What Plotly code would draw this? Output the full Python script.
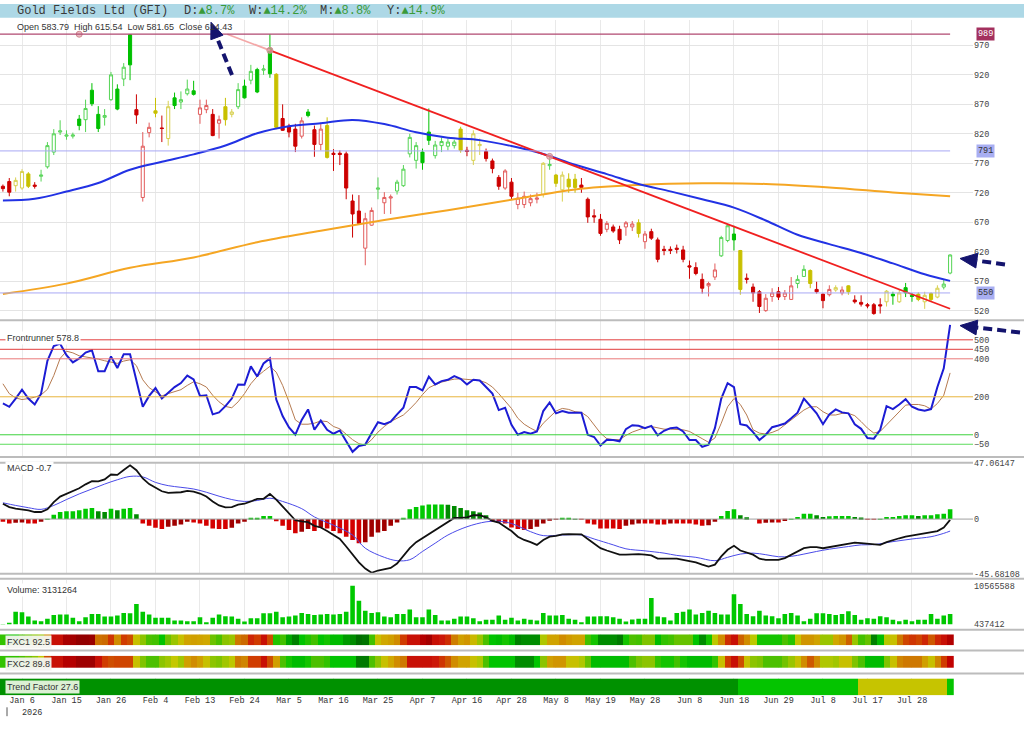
import plotly.graph_objects as go

W, H = 1024, 735

# ---------------- data ----------------
tick_bars = list(range(3, 144, 7))
tick_labels = ["Jan 6", "Jan 15", "Jan 26", "Feb 4", "Feb 13", "Feb 24", "Mar 5",
               "Mar 16", "Mar 25", "Apr 7", "Apr 16", "Apr 28", "May 8", "May 19",
               "May 28", "Jun 8", "Jun 18", "Jun 29", "Jul 8", "Jul 17", "Jul 28"]

bars = list(range(150))

opens = [
    731, 739, 732, 728, 752, 733, 748, 764, 789, 823,
    816, 816, 845, 844, 894, 853, 848, 878, 896, 913,
    988, 861, 712, 822, 859, 830, 812, 881, 874, 888,
    893, 853, 861, 853, 838, 866, 853, 866, 901, 911,
    929, 928, 965, 921, 846, 833, 828, 816, 857, 827,
    802, 834, 787, 787, 786, 706, 689, 626, 665, 726,
    703, 711, 723, 732, 786, 775, 789, 823, 783, 800,
    799, 800, 828, 792, 775, 800, 790, 774, 746, 728,
    738, 700, 700, 703, 709, 717, 766, 750, 725, 743,
    743, 733, 709, 681, 675, 658, 662, 658, 662, 662,
    669, 637, 654, 640, 624, 624, 626, 623, 596, 593,
    573, 562, 577, 613, 639, 650, 622, 575, 560, 552,
    520, 544, 552, 544, 539, 566, 578, 588, 556, 548,
    547, 555, 550, 562, 538, 534, 530, 530, 530, 535,
    548, 535, 559, 546, 548, 535, 549, 543, 560, 583.79]
closes = [
    727, 721, 741, 756, 731, 731, 750, 800, 820, 825,
    818, 818, 834, 863, 871, 829, 851, 920, 862, 933,
    937, 852, 799, 831, 855, 829, 866, 868, 878, 896,
    887, 864, 868, 817, 844, 844, 857, 895, 881, 926,
    891, 930, 922, 831, 826, 823, 799, 842, 851, 802,
    828, 780, 785, 785, 728, 684, 668, 676, 690, 728,
    712, 713, 738, 760, 814, 800, 771, 809, 801, 807,
    806, 806, 792, 790, 820, 802, 778, 761, 731, 757,
    714, 711, 714, 710, 711, 770, 768, 736, 750, 730,
    729, 729, 679, 679, 651, 668, 655, 640, 669, 667,
    651, 650, 643, 607, 622, 622, 624, 607, 594, 583,
    558, 566, 589, 644, 664, 640, 556, 573, 550, 527,
    541, 550, 543, 550, 562, 573, 590, 566, 552, 537,
    556, 559, 555, 552, 535, 531, 528, 515, 528, 553,
    545, 550, 550, 544, 539, 546, 539, 558, 565, 614.43]
highs = [
    734, 745, 746, 760, 755, 738, 759, 806, 828, 843,
    826, 822, 852, 878, 906, 867, 862, 925, 904, 940,
    989, 887, 823, 839, 881, 851, 876, 890, 892, 912,
    910, 878, 878, 862, 851, 881, 862, 906, 912, 937,
    932, 937, 989, 923, 870, 837, 837, 848, 862, 834,
    839, 848, 794, 792, 790, 717, 716, 686, 695, 746,
    721, 717, 742, 767, 820, 806, 795, 863, 808, 814,
    812, 810, 832, 798, 826, 812, 795, 778, 750, 760,
    745, 720, 722, 717, 720, 772, 784, 752, 756, 753,
    752, 745, 712, 692, 684, 672, 666, 664, 672, 672,
    675, 655, 659, 644, 630, 629, 632, 630, 605, 602,
    583, 569, 600, 647, 666, 664, 623, 583, 566, 555,
    548, 558, 560, 555, 577, 580, 597, 590, 569, 549,
    563, 563, 561, 563, 546, 546, 533, 533, 541, 555,
    552, 555, 567, 550, 551, 552, 551, 563, 572, 615.54]
lows = [
    722, 714, 722, 725, 728, 727, 739, 761, 784, 818,
    810, 812, 826, 823, 867, 823, 834, 876, 860, 901,
    911, 837, 705, 814, 848, 806, 800, 862, 862, 885,
    885, 837, 855, 816, 812, 834, 848, 862, 880, 904,
    889, 920, 915, 828, 825, 814, 789, 812, 848, 781,
    792, 778, 757, 767, 709, 644, 666, 597, 664, 709,
    684, 684, 717, 730, 780, 761, 759, 801, 778, 789,
    792, 795, 788, 782, 767, 784, 773, 753, 725, 725,
    708, 692, 694, 697, 702, 712, 759, 730, 705, 720,
    720, 720, 669, 669, 647, 653, 652, 633, 647, 655,
    644, 625, 640, 602, 614, 616, 617, 602, 574, 580,
    549, 544, 572, 611, 636, 622, 547, 566, 535, 516,
    518, 535, 538, 538, 538, 558, 577, 558, 549, 524,
    544, 552, 546, 547, 532, 527, 524, 513, 515, 527,
    530, 533, 543, 535, 536, 523, 536, 541, 556, 581.65]
# g = green, r = red, y = yellow candle
candle_color = list(
    "rryyyrgggg" "gggggggggg" "grrryryggg" "grrrryyggg" "gggyrrrrgr"
    "ryrrrrrrrg" "rrgggggggg" "ggyryyrrrr" "rrrrrygyyy" "yrrrrrrrrr"
    "yrrrrrrrrr" "rrrgggyrrr" "rrrrrggyrr" "ryryrrrrry" "gyggyyyygg")

ma50_bars = [0, 5, 10, 15, 20, 25, 30, 35, 40, 45, 50, 55, 60, 65, 70, 75,
             80, 85, 90, 95, 100, 105, 110, 115, 120, 125, 130, 135, 140, 145, 149]
ma50 = [706.9, 709.8, 722.0, 736.5, 759.1, 772.5, 785.1, 800.1, 821.0, 832.8,
        837.8, 843.6, 836.6, 822.7, 813.5, 809.3, 799.3, 785.9, 767.5, 751.6,
        734.9, 722.3, 708.9, 694.7, 672.9, 648.7, 632.8, 617.7, 600.1, 581.7, 570.5]
ma200_bars = [0, 10, 20, 30, 40, 50, 60, 70, 80, 90, 100, 110, 120, 130, 140, 149]
ma200 = [548.3, 565.8, 592.6, 610.2, 636.1, 655.4, 673.8, 690.5, 708.1, 725.7,
         733.2, 736.0, 734.9, 729.0, 720.6, 713.9]

levels = {"989": 989, "791": 791, "550": 550}
trend_faint_x = [35.3, 42]
trend_faint_y = [989, 961.6]
trend_x = [42, 149]
trend_y = [961.6, 523.2]
anchor_x = [12, 42, 86]
anchor_y = [989, 961.6, 781.7]

frontrunner = [
    164.7, 147.4, 190.6, 237.4, 190.6, 159.5, 216.6, 389.8, 467.7, 479.8,
    419.2, 381.1, 401.9, 433.1, 445.2, 334.4, 334.4, 412.3, 351.7, 424.4,
    424.4, 277.2, 147.4, 204.5, 246.1, 190.6, 221.8, 251.3, 272.0, 311.9,
    291.1, 204.5, 208.0, 107.5, 117.9, 150.8, 190.6, 265.1, 263.4, 360.3,
    306.7, 375.9, 401.9, 185.5, 98.9, 38.3, 0.2, 78.1, 133.5, 26.1,
    74.6, 26.1, 5.4, 22.7, -34.5, -89.9, -58.7, -51.8, 8.8, 66.0,
    55.6, 69.4, 107.5, 142.2, 251.3, 251.3, 233.9, 306.7, 265.1, 282.4,
    289.4, 308.4, 294.5, 265.1, 289.4, 285.9, 251.3, 216.6, 130.0, 142.2,
    52.1, 0.2, 14.0, 5.4, 17.5, 124.8, 169.9, 112.7, 124.8, 116.2,
    116.2, 116.2, 0.2, -11.9, -56.9, -25.8, -27.5, -34.5, 29.6, 50.4,
    46.9, 34.8, 46.9, -3.3, 20.9, 34.8, 38.3, 17.5, -27.5, -27.5,
    -63.9, -51.8, 34.8, 190.6, 272.0, 251.3, 55.6, 48.7, 14.0, -27.5,
    0.2, 40.0, 48.7, 59.1, 86.8, 116.2, 190.6, 150.8, 112.7, 55.6,
    107.5, 133.5, 117.9, 112.7, 55.6, 31.3, -17.1, -20.6, 26.1, 150.8,
    135.2, 159.5, 187.2, 147.4, 133.5, 126.6, 135.2, 251.3, 349.8, 578.8]
frontrunner_signal = [
    268.6, 216.6, 194.1, 185.5, 190.6, 197.6, 209.7, 239.1, 311.9, 401.9,
    440.0, 431.3, 415.8, 410.6, 407.1, 398.4, 389.8, 381.1, 375.9, 388.0,
    394.9, 363.8, 289.4, 247.8, 227.0, 204.5, 216.6, 228.7, 237.4, 259.9,
    279.0, 268.6, 251.3, 208.0, 173.3, 149.1, 142.2, 173.3, 216.6, 268.6,
    306.7, 334.4, 360.3, 329.2, 259.9, 173.3, 78.1, 55.6, 55.6, 60.8,
    72.9, 69.4, 43.5, 31.3, 3.6, -25.8, -46.6, -55.2, -25.8, 14.0,
    43.5, 69.4, 86.8, 104.1, 135.2, 169.9, 211.4, 247.8, 263.4, 277.2,
    285.9, 292.8, 294.5, 291.1, 289.4, 285.9, 273.7, 251.3, 216.6, 176.8,
    138.6, 86.8, 55.6, 34.8, 17.5, 60.8, 95.4, 124.8, 138.7, 133.5,
    121.4, 117.9, 95.4, 52.1, 8.8, -20.6, -25.8, -25.8, -3.3, 14.0,
    26.1, 38.3, 43.5, 34.8, 29.6, 29.6, 29.6, 26.1, 17.5, 0.2,
    -20.6, -39.6, -17.1, 60.8, 147.4, 190.6, 159.5, 104.1, 26.1, 8.8,
    3.6, 12.3, 26.1, 52.1, 78.1, 104.1, 130.0, 147.4, 147.4, 121.4,
    104.1, 104.1, 112.7, 112.7, 100.6, 69.4, 34.8, 8.8, 17.5, 52.1,
    86.8, 121.4, 156.0, 159.5, 159.5, 152.6, 135.2, 164.7, 208.0, 325.7]
fr_levels = [500, 450, 400, 200, 0, -50]

macd = [
    12.8, 10.0, 8.7, 8.1, 7.3, 5.9, 5.9, 8.1, 14.1, 18.8,
    21.0, 22.9, 25.7, 29.0, 31.7, 31.4, 33.1, 37.2, 36.9, 41.0,
    44.9, 40.8, 33.9, 29.2, 26.5, 23.2, 21.8, 21.8, 22.4, 23.5,
    22.9, 21.3, 18.8, 14.7, 11.4, 9.8, 10.0, 12.0, 12.8, 14.7,
    16.9, 16.9, 21.0, 16.3, 10.6, 5.1, -1.0, -2.0, -2.6, -5.6,
    -7.0, -10.0, -13.3, -16.6, -22.9, -29.7, -36.1, -41.3, -44.8, -42.9,
    -42.1, -40.7, -37.1, -31.1, -24.3, -19.3, -16.0, -12.7, -8.9, -6.1,
    -2.3, 1.0, 1.0, 1.5, 3.2, 3.2, 1.5, -1.5, -2.9, -6.4,
    -10.0, -14.7, -17.4, -19.3, -21.5, -17.4, -14.7, -14.1, -12.7, -12.5,
    -12.5, -12.7, -16.6, -20.1, -24.3, -26.2, -27.8, -29.7, -29.7, -29.2,
    -29.2, -29.7, -30.3, -33.0, -33.3, -33.0, -33.0, -33.9, -34.7, -36.1,
    -38.0, -39.6, -38.0, -31.1, -25.6, -22.3, -26.2, -27.8, -29.7, -33.0,
    -34.1, -34.1, -34.1, -32.5, -29.7, -26.5, -24.3, -23.4, -23.4, -24.3,
    -23.4, -22.3, -21.0, -20.1, -19.6, -20.1, -20.7, -21.5, -21.5, -19.3,
    -17.4, -16.0, -14.7, -13.8, -13.3, -11.9, -11.4, -10.0, -7.0, -0.7]
signal_bars = [0, 2, 4, 6, 8, 10, 12, 14, 16, 18, 20, 22, 24, 26, 28, 30, 32, 34,
               36, 38, 40, 42, 44, 47, 49, 52, 55, 57, 60, 62, 64, 66, 68, 70, 73,
               76, 78, 80, 83, 85, 88, 91, 93, 96, 98, 101, 104, 106, 109, 112, 114,
               116, 118, 120, 122, 124, 126, 128, 130, 133, 135, 137, 140, 143, 146,
               148, 149]
signal = [13.6, 11.4, 9.5, 8.1, 11.4, 16.3, 21.0, 25.1, 29.2, 32.8, 35.6, 35.2,
          30.6, 27.9, 26.5, 25.1, 22.4, 19.1, 16.3, 14.7, 15.5, 17.4, 14.7, 8.7,
          1.8, -5.1, -13.3, -24.3, -31.9, -34.7, -33.9, -27.0, -20.1, -13.3, -6.4,
          -2.3, -1.8, -3.7, -10.5, -13.8, -13.3, -13.3, -16.6, -21.5, -24.8, -26.5,
          -28.4, -30.3, -31.9, -34.7, -31.9, -29.2, -28.4, -29.7, -31.4, -31.1,
          -29.2, -27.0, -25.1, -22.9, -21.5, -21.3, -18.8, -16.6, -14.7, -11.9, -10.0]
histogram = [
    -2.3, -3.7, -3.1, -2.9, -3.7, -3.7, -2.3, 0.3, 3.7, 5.9,
    6.5, 6.5, 7.3, 8.7, 9.2, 6.5, 5.9, 8.7, 7.3, 8.7,
    9.2, 4.0, -3.7, -5.6, -7.2, -8.3, -6.4, -5.6, -4.5, -2.3,
    -2.9, -3.7, -5.6, -7.8, -8.3, -8.3, -7.2, -3.7, -2.3, 0.4,
    1.0, 2.6, 2.6, -1.8, -5.6, -9.2, -11.9, -10.5, -8.3, -10.0,
    -7.2, -7.8, -10.0, -11.9, -14.7, -17.4, -20.1, -19.3, -14.7, -11.1,
    -10.0, -5.6, -2.9, 1.0, 8.1, 10.0, 11.4, 12.2, 12.2, 12.2,
    12.0, 10.9, 9.2, 7.3, 6.5, 5.4, 3.2, -2.3, -2.9, -3.7,
    -7.0, -8.3, -9.2, -8.3, -6.4, -3.7, -0.9, -0.4, 0.4, 0.4,
    0.2, -0.1, -3.7, -4.5, -7.8, -7.8, -7.8, -8.3, -5.6, -4.5,
    -3.7, -3.7, -3.7, -4.5, -4.5, -3.7, -3.7, -3.7, -3.7, -4.5,
    -5.6, -5.1, -2.3, 2.6, 6.7, 8.1, 3.2, 1.5, 0.0, -3.7,
    -3.1, -2.9, -2.9, -1.5, 0.2, 1.8, 4.5, 4.5, 3.2, 1.8,
    2.4, 2.6, 2.6, 2.6, 1.8, 1.3, -0.1, -0.4, 0.2, 1.8,
    1.8, 2.6, 3.2, 3.2, 2.6, 3.2, 3.2, 4.0, 4.5, 8.1]
macd_low, macd_high = -45.68108, 47.06147

volume = [
    400000, 790000, 3730000, 3560000, 2440000, 1400000, 1220000, 1830000, 2870000, 2960000,
    2960000, 2090000, 1220000, 2260000, 3130000, 3130000, 2440000, 2440000, 2700000, 3390000,
    3300000, 5730000, 3730000, 2960000, 2090000, 2090000, 2090000, 1400000, 1400000, 1220000,
    1220000, 2260000, 960000, 2090000, 2960000, 2520000, 2440000, 1830000, 1140000, 2000000,
    2000000, 3300000, 3300000, 3730000, 2260000, 2440000, 2700000, 3390000, 3130000, 2870000,
    2960000, 3130000, 2960000, 3130000, 3730000, 10565588, 6590000, 3990000, 3390000, 3560000,
    2440000, 2260000, 3130000, 3130000, 4260000, 2260000, 2260000, 4260000, 2870000, 1400000,
    1400000, 1830000, 2440000, 2440000, 2000000, 1220000, 1570000, 1570000, 2700000, 1570000,
    2090000, 1400000, 1830000, 1570000, 1400000, 3390000, 2700000, 2700000, 2870000, 1830000,
    1570000, 960000, 2440000, 2440000, 2520000, 2520000, 2260000, 1830000, 1140000, 1660000,
    1830000, 1830000, 7290000, 2440000, 2260000, 1400000, 3390000, 3730000, 4260000, 2960000,
    3390000, 3990000, 3390000, 2960000, 2960000, 8320000, 5730000, 3130000, 2520000, 3990000,
    2700000, 2520000, 2000000, 3130000, 3390000, 2700000, 1220000, 1830000, 3300000, 3300000,
    3130000, 2870000, 3130000, 3820000, 2870000, 1570000, 2000000, 1830000, 2520000, 2260000,
    1570000, 1220000, 1570000, 1220000, 1570000, 1570000, 3130000, 1830000, 2700000, 3131264]
vol_low, vol_high = 437412, 10565588

fxc1 = [
    35, 30, 30, 40, 45, 50, 52, 72, 88, 88, 94, 95, 98, 98, 97, 76, 77, 83, 72, 82,
    80, 60, 50, 40, 38, 27, 45, 52, 60, 67, 68, 67, 66, 45, 40, 50, 52, 75, 77, 85,
    82, 88, 80, 32, 38, 20, 12, 27, 32, 38, 27, 30, 25, 25, 18, 15, 5, 8, 38, 60,
    66, 68, 72, 82, 88, 88, 92, 95, 88, 87, 84, 74, 68, 70, 62, 52, 40, 27, 25, 30,
    25, 12, 15, 15, 15, 55, 67, 67, 72, 69, 67, 67, 38, 30, 15, 15, 15, 10, 30, 40,
    38, 48, 48, 25, 35, 38, 44, 44, 44, 27, 15, 30, 57, 72, 84, 88, 78, 72, 57, 30,
    30, 30, 30, 40, 33, 59, 70, 70, 67, 52, 52, 66, 70, 78, 52, 38, 44, 12, 25, 56,
    60, 75, 81, 83, 81, 85, 79, 85, 88, 92.5]
fxc2 = [
    35, 35, 35, 40, 45, 50, 58, 80, 88, 88, 92, 92, 96, 96, 96, 88, 82, 80, 81, 81,
    81, 60, 48, 40, 40, 50, 53, 58, 53, 68, 72, 68, 60, 50, 48, 53, 57, 75, 73, 82,
    82, 88, 80, 68, 40, 30, 25, 25, 30, 40, 40, 35, 27, 27, 27, 27, 10, 10, 40, 50,
    60, 66, 72, 75, 88, 88, 88, 88, 87, 83, 79, 72, 67, 67, 60, 55, 40, 27, 27, 27,
    27, 15, 15, 15, 27, 50, 68, 70, 70, 60, 60, 55, 44, 25, 25, 25, 25, 25, 25, 40,
    47, 50, 50, 35, 30, 30, 38, 30, 25, 25, 25, 25, 35, 60, 82, 88, 80, 60, 50, 48,
    40, 40, 40, 46, 52, 60, 72, 79, 72, 55, 55, 53, 60, 60, 48, 40, 25, 25, 25, 48,
    60, 73, 75, 75, 75, 68, 60, 73, 82, 89.8]
# trend factor as runs of (bar count, value)
trend_runs = [(116, 16.0), (19, 27.6), (14, 59.0), (1, 27.6)]
trend = [v for n, v in trend_runs for _ in range(n)]

# ---------------- helpers ----------------
X_END = 973 / W
X_RANGE = [-0.46, 152.6]


def ydom(top, bot):
    return [1 - bot / H, 1 - top / H]


def px(x):
    return x / W


def py(y):
    return 1 - y / H


mono = dict(family="Liberation Mono", size=8.5, color="#444")
sans = dict(family="Liberation Sans", size=9, color="#333")
heat_scale = [[0.00, "#006000"], [0.10, "#007a00"], [0.15, "#008c00"], [0.22, "#00b000"],
              [0.27, "#00c400"], [0.32, "#22c400"], [0.40, "#4cc000"], [0.50, "#8cc400"],
              [0.58, "#c4c800"], [0.66, "#d0a800"], [0.72, "#d08c00"], [0.77, "#cc6a00"],
              [0.82, "#d03c00"], [0.87, "#cc1808"], [0.90, "#c00000"], [0.95, "#a40000"],
              [1.00, "#880000"]]

fig = go.Figure()

# candles: hollow when close > open, filled otherwise
styles = {"g": ("#00c000", "#55d455"), "r": ("#cc0000", "#e25c5c"), "y": ("#c8c000", "#d8d050")}
for key, (solid, light) in styles.items():
    idx = [i for i in bars if candle_color[i] == key]
    fig.add_trace(go.Candlestick(
        x=idx, open=[opens[i] for i in idx], high=[highs[i] for i in idx],
        low=[lows[i] for i in idx], close=[closes[i] for i in idx],
        increasing=dict(line=dict(color=light, width=1), fillcolor="white"),
        decreasing=dict(line=dict(color=solid, width=1), fillcolor=solid),
        whiskerwidth=0, hoverinfo="skip", xaxis="x", yaxis="y"))

fig.add_trace(go.Scatter(x=ma200_bars, y=ma200, mode="lines", line_shape="spline",
                         line=dict(color="#f5a623", width=2), xaxis="x", yaxis="y"))
fig.add_trace(go.Scatter(x=ma50_bars, y=ma50, mode="lines", line_shape="spline",
                         line=dict(color="#2232e4", width=2), xaxis="x", yaxis="y"))
fig.add_trace(go.Scatter(x=trend_faint_x, y=trend_faint_y, mode="lines",
                         line=dict(color="#f4a8a8", width=1.8), xaxis="x", yaxis="y"))
fig.add_trace(go.Scatter(x=trend_x, y=trend_y, mode="lines",
                         line=dict(color="#f02020", width=1.8), xaxis="x", yaxis="y"))
fig.add_trace(go.Scatter(x=anchor_x, y=anchor_y, mode="markers",
                         marker=dict(size=6, color="rgba(225,160,170,0.7)",
                                     line=dict(color="#d08890", width=1)),
                         xaxis="x", yaxis="y"))

# frontrunner
fig.add_trace(go.Scatter(x=bars, y=frontrunner_signal, mode="lines",
                         line=dict(color="#b57a50", width=1), xaxis="x2", yaxis="y2"))
fig.add_trace(go.Scatter(x=bars, y=frontrunner, mode="lines",
                         line=dict(color="#1c1cd4", width=2), xaxis="x2", yaxis="y2"))

# MACD
hist_colors = []
for i, v in enumerate(histogram):
    prev = histogram[i - 1] if i else v
    if v >= 0:
        hist_colors.append("#00c800" if v >= prev else "#008a00")
    else:
        hist_colors.append("#d40000" if v <= prev else "#a00000")
fig.add_trace(go.Bar(x=bars, y=histogram, marker=dict(color=hist_colors, line_width=0),
                     width=0.72, xaxis="x3", yaxis="y3"))
fig.add_trace(go.Scatter(x=signal_bars, y=signal, mode="lines", line_shape="spline",
                         line=dict(color="#4a4ae8", width=1), xaxis="x3", yaxis="y3"))
fig.add_trace(go.Scatter(x=bars, y=macd, mode="lines",
                         line=dict(color="#111111", width=1.8), xaxis="x3", yaxis="y3"))

# volume
fig.add_trace(go.Bar(x=bars, y=volume, marker=dict(color="#00c800", line_width=0),
                     width=0.72, xaxis="x4", yaxis="y4"))

# colour strips
for k, vals in ((5, fxc1), (6, fxc2), (7, trend)):
    fig.add_trace(go.Heatmap(z=[vals], x=bars, y=[0], colorscale=heat_scale, zmin=0,
                             zmax=100, showscale=False, hoverinfo="skip",
                             xaxis=f"x{k}", yaxis=f"y{k}"))

# ---------------- layout ----------------
layout = dict(width=W, height=H, margin=dict(l=0, r=0, t=0, b=0),
              paper_bgcolor="white", plot_bgcolor="white", showlegend=False,
              font=sans)

panels = {
    1: dict(dom=(16, 320), rng=[504.7, 1013.5], tv=list(range(520, 971, 50)), grid=True),
    2: dict(dom=(321.5, 459), rng=[-115.8, 598.4], tv=fr_levels, grid=False),
    3: dict(dom=(465, 577.7), rng=[macd_low, macd_high], tv=[macd_low, 0, macd_high],
            tt=[f"{macd_low:.5f}", "0", f"{macd_high:.5f}"], grid=False),
    4: dict(dom=(584, 628.7), rng=[vol_low, 12045861], tv=[vol_low, vol_high],
            tt=[str(vol_low), str(vol_high)], grid=False),
    5: dict(dom=(639, 650), rng=[-0.5, 0.5], tv=[], grid=False),
    6: dict(dom=(660.7, 673.3), rng=[-0.5, 0.5], tv=[], grid=False),
    7: dict(dom=(683.7, 700.7), rng=[-0.5, 0.5], tv=[], grid=False),
}
for k, p in panels.items():
    sx = "" if k == 1 else str(k)
    xa = dict(domain=[0, X_END], range=X_RANGE, anchor="y" + sx, tickvals=tick_bars,
              ticktext=tick_labels, showgrid=True, gridcolor="#e9e9e9", gridwidth=1,
              showticklabels=(k == 7), ticks="", zeroline=False, showline=False,
              tickfont=dict(family="Liberation Mono", size=8.5, color="#333"),
              ticklabelstandoff=-2, fixedrange=True)
    if k == 1:
        xa["rangeslider"] = dict(visible=False)
    else:
        xa["matches"] = "x"
    ya = dict(domain=ydom(*p["dom"]), range=p["rng"], anchor="x" + sx, side="right",
              tickvals=p["tv"], showgrid=p["grid"], gridcolor="#e4e4e4", ticks="",
              zeroline=False, showline=False, tickfont=mono, fixedrange=True,
              showticklabels=bool(p["tv"]))
    if "tt" in p:
        ya["ticktext"] = p["tt"]
    layout["xaxis" + sx] = xa
    layout["yaxis" + sx] = ya

shapes = []
# header band
shapes.append(dict(type="rect", xref="paper", yref="paper", x0=0, x1=1, y0=py(14), y1=1,
                   fillcolor="#add8e6", line_width=0, layer="below"))
# price reference lines
for name, lvl in levels.items():
    col = "#b04870" if lvl == 989 else "#a8a8f4"
    shapes.append(dict(type="line", xref="x", yref="y", x0=-0.5, x1=149, y0=lvl, y1=lvl,
                       line=dict(color=col, width=1.2 if lvl == 989 else 1)))
# frontrunner levels
fr_cols = {500: "#e23c3c", 450: "#e23c3c", 400: "#ea7a7a", 200: "#e8b43c",
           0: "#3cd23c", -50: "#5cdc5c"}
for lvl in fr_levels:
    shapes.append(dict(type="line", xref="paper", yref="y2", x0=0, x1=X_END, y0=lvl, y1=lvl,
                       line=dict(color=fr_cols[lvl], width=1)))
# MACD zero + borders
shapes.append(dict(type="line", xref="paper", yref="y3", x0=0, x1=X_END, y0=0, y1=0,
                   line=dict(color="#a0a0a0", width=1)))
for yy in (465, 577.7):
    shapes.append(dict(type="line", xref="paper", yref="paper", x0=0, x1=X_END,
                       y0=py(yy), y1=py(yy), line=dict(color="#bcbcbc", width=2)))
for yy in (320.7, 459.3, 582.8, 634.3, 655.3, 678.7):
    shapes.append(dict(type="line", xref="paper", yref="paper", x0=0, x1=1,
                       y0=py(yy), y1=py(yy), line=dict(color="#bcbcbc", width=2)))
# date tick mark
shapes.append(dict(type="line", xref="paper", yref="paper", x0=px(7), x1=px(7),
                   y0=py(713), y1=py(722), line=dict(color="#555", width=1)))

# dashed navy arrows (tail, base-centre, tip, half width)
NAVY = "#14146e"
arrows = [((232, 72), (216.9, 33.9), (211, 18.5), 6.5),
          ((1005, 264), (976.8, 260.2), (960, 258), 7.5),
          ((1020, 333), (976.9, 328), (960, 326), 7.5)]
for (tx, ty), (bx, by), (hx, hy), hw in arrows:
    shapes.append(dict(type="line", xref="paper", yref="paper", x0=px(tx), y0=py(ty),
                       x1=px(bx), y1=py(by), line=dict(color=NAVY, width=4, dash="9px,5px")))
    dx, dy = hx - bx, hy - by
    n = (dx * dx + dy * dy) ** 0.5
    ox, oy = -dy / n * hw, dx / n * hw
    path = (f"M {px(hx)} {py(hy)} L {px(bx + ox)} {py(by + oy)} "
            f"L {px(bx - ox)} {py(by - oy)} Z")
    shapes.append(dict(type="path", xref="paper", yref="paper", path=path,
                       fillcolor=NAVY, line=dict(color=NAVY, width=1)))
layout["shapes"] = shapes

ann = []
hdr = dict(family="Liberation Mono", size=12, color="#3a3a3a")
up = "<span style='color:#3a9a3a'>▲{}</span>"
for xpix, txt in ((15, "Gold Fields Ltd (GFI)"), (182, "D:" + up.format("8.7%")),
                  (247, "W:" + up.format("14.2%")), (318, "M:" + up.format("8.8%")),
                  (385, "Y:" + up.format("14.9%"))):
    ann.append(dict(text=txt, x=px(xpix), y=py(7), xref="paper", yref="paper",
                    xanchor="left", yanchor="middle", showarrow=False, font=hdr))

ann.append(dict(text="Open 583.79  High 615.54  Low 581.65  Close 614.43", x=px(15),
                y=py(23), xref="paper", yref="paper", xanchor="left", yanchor="middle",
                showarrow=False, font=sans))
labels = [("Frontrunner 578.8", 338.3, "white"), ("MACD -0.7", 470.3, "white"),
          ("Volume: 3131264", 594.3, "white"), ("FXC1 92.5", 646.5, "rgba(244,244,240,0.95)"),
          ("FXC2 89.8", 669, "rgba(244,244,240,0.95)"), ("Trend Factor 27.6", 692.3, "#dcf0d4")]
for txt, yy, bg in labels:
    ann.append(dict(text=txt, x=px(5), y=py(yy), xref="paper", yref="paper",
                    xanchor="left", yanchor="middle", showarrow=False, font=sans,
                    bgcolor=bg, borderpad=1))
for name, lvl in levels.items():
    bg, fc = ("#a3305e", "white") if lvl == 989 else ("#a8aef2", "#333")
    ann.append(dict(text=name, x=px(976), y=lvl, xref="paper", yref="y",
                    xanchor="left", yanchor="middle", showarrow=False,
                    font=dict(family="Liberation Mono", size=8.5, color=fc),
                    bgcolor=bg, borderpad=1))
ann.append(dict(text="2026", x=px(32), y=py(718.5), xref="paper", yref="paper",
                xanchor="center", yanchor="middle", showarrow=False,
                font=dict(family="Liberation Mono", size=8.5, color="#333")))
layout["annotations"] = ann

fig.update_layout(**layout)
fig.write_html("out.html", config={"displayModeBar": False},
               post_script="document.body.style.margin='0px';"
                           "document.body.style.overflow='hidden';")
